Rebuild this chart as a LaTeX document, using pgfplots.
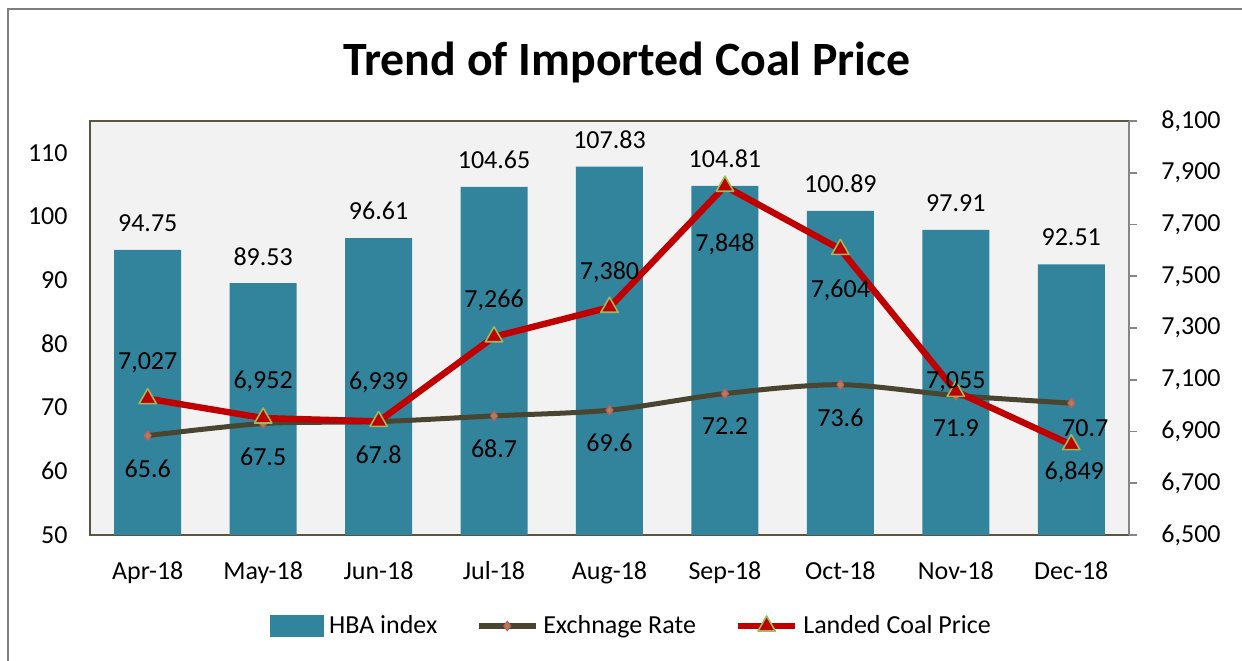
\documentclass[border=0pt]{standalone}
\usepackage{pgfplots}
\usepackage{pgfplotstable}
\pgfplotsset{compat=1.18}
\usepackage{fontspec}
\setmainfont{Carlito}
\definecolor{hba}{HTML}{31849B}
\definecolor{plotbg}{HTML}{F2F2F2}
\definecolor{bord}{HTML}{5A553F}
\definecolor{raxis}{HTML}{868686}
\definecolor{exch}{HTML}{4A4530}
\definecolor{exchmk}{HTML}{D05A55}
\definecolor{exchfill}{HTML}{9A8C62}
\definecolor{landed}{HTML}{C00000}
\definecolor{trib}{HTML}{9BBB59}
\definecolor{framec}{HTML}{7F7F7F}
\pgfplotsset{
 lineleg/.style={legend image code/.code={\draw[mark repeat=2,mark phase=2,##1] plot coordinates {(0bp,0bp) (14.25bp,0bp) (28.5bp,0bp)};}},
 barleg/.style={legend image code/.code={\fill[hba] (0bp,-5.25bp) rectangle (26.5bp,5.25bp);}},
}
\pgfplotstableread{
x y lab
0 94.75 94.75
1 89.53 89.53
2 96.61 96.61
3 104.65 104.65
4 107.83 107.83
5 104.81 104.81
6 100.89 100.89
7 97.91 97.91
8 92.51 92.51
}\hbadata
\pgfplotstableread{
x y off xoff lab
0 65.6 -16.5 0 65.6
1 67.5 -16.5 0 67.5
2 67.8 -16.5 0 67.8
3 68.7 -16.5 0 68.7
4 69.6 -16.5 0 69.6
5 72.2 -16.5 0 72.2
6 73.6 -16.5 0 73.6
7 71.9 -16.5 0 71.9
8 70.7 -12.5 7 70.7
}\exchdata
\pgfplotstableread{
x y off xoff lab
0 7027 18 0 7,027
1 6952 18.5 0 6,952
2 6939 19.5 0 6,939
3 7266 18 0 7,266
4 7380 17.5 0 7,380
5 7848 -29 0 7,848
6 7604 -20.5 0 7,604
7 7055 5 0 7,055
8 6849 -14 1.5 6,849
}\landdata
\begin{document}
\fontsize{13.05}{15.6}\selectfont
\begin{tikzpicture}
\useasboundingbox (0,0) rectangle (621bp,330.5bp);
\draw[framec, line width=1bp] (4bp,0) -- (4bp,326bp) -- (621bp,326bp);
\node[font=\fontsize{24}{28}\selectfont\bfseries] at (313.5bp,299.5bp) {Trend of Imported Coal Price};
\begin{axis}[
 at={(45bp,63bp)}, anchor=south west,
 scale only axis, width=519.5bp, height=207bp,
 xmin=-0.5, xmax=8.5, ymin=50, ymax=115,
 xtick={0,...,8},
 xticklabels={Apr-18,May-18,Jun-18,Jul-18,Aug-18,Sep-18,Oct-18,Nov-18,Dec-18},
 ytick={50,60,...,110},
 major tick length=0pt,
 axis background/.style={fill=plotbg},
 axis line style={draw=bord, line width=0.8bp},
 xticklabel style={anchor=base, yshift=-22.5bp, inner sep=0pt},
 yticklabel style={anchor=east, inner sep=0pt, xshift=-11bp},
 /pgf/number format/assume math mode=true,
]
\addplot[ybar, bar width=33.5bp, fill=hba, draw=none, point meta=explicit symbolic,
  nodes near coords, every node near coord/.append style={anchor=center, yshift=13.5bp, text=black}]
  table[x=x,y=y,meta=lab]{\hbadata};
\addplot[exch, line width=2.5bp, smooth, line join=round, mark=diamond*, mark size=2.2bp,
  mark options={draw=exchmk, fill=exchfill, line width=0.7bp},
  point meta=explicit symbolic, nodes near coords,
  visualization depends on={\thisrow{off}\as\myoff},
  visualization depends on={\thisrow{xoff}\as\myxoff},
  every node near coord/.append style={anchor=center, yshift=\myoff bp, xshift=\myxoff bp, text=black}]
  table[x=x,y=y,meta=lab]{\exchdata};
\end{axis}
\begin{axis}[
 at={(45bp,63bp)}, anchor=south west,
 scale only axis, width=519.5bp, height=207bp,
 xmin=-0.5, xmax=8.5, ymin=6500, ymax=8100,
 axis x line=none, axis y line*=right,
 ytick={6500,6700,...,8100},
 y axis line style={draw=raxis, line width=0.8bp},
 tick align=outside, major tick length=4bp,
 tick style={draw=raxis, line width=0.8bp},
 yticklabel style={anchor=west, inner sep=0pt, xshift=12bp},
 /pgf/number format/fixed,
 /pgf/number format/1000 sep={,},
 /pgf/number format/assume math mode=true,
 legend columns=3,
 legend style={draw=none, fill=none, at={(0.5227,-0.2198)}, anchor=center,
   nodes={inner xsep=2.5bp},
   /tikz/every even column/.append style={column sep=17bp}},
 legend cell align=left,
]
\addlegendimage{barleg}
\addlegendentry{HBA index}
\addlegendimage{exch, line width=2.5bp, mark=diamond*, mark size=2.2bp,
  mark options={draw=exchmk, fill=exchfill, line width=0.7bp}, lineleg}
\addlegendentry{Exchnage Rate}
\addplot[landed, line width=3.2bp, line join=round, mark=triangle*, mark size=5bp,
  mark options={draw=trib, fill=landed, line width=0.8bp}, lineleg,
  point meta=explicit symbolic, nodes near coords,
  visualization depends on={\thisrow{off}\as\myoff},
  visualization depends on={\thisrow{xoff}\as\myxoff},
  every node near coord/.append style={anchor=center, yshift=\myoff bp, xshift=\myxoff bp, text=black}]
  table[x=x,y=y,meta=lab]{\landdata};
\addlegendentry{Landed Coal Price}
\end{axis}
\end{tikzpicture}
\end{document}
